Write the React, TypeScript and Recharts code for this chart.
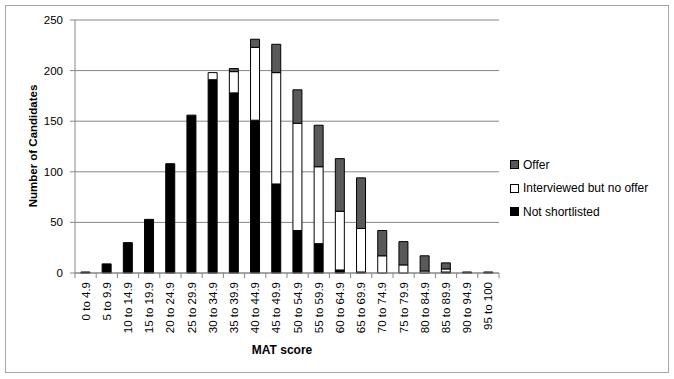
import React from 'react';
import { BarChart, Bar, XAxis, YAxis, CartesianGrid, Legend } from 'recharts';

// MAT score bands
const categories = [
  '0 to 4.9', '5 to 9.9', '10 to 14.9', '15 to 19.9', '20 to 24.9',
  '25 to 29.9', '30 to 34.9', '35 to 39.9', '40 to 44.9', '45 to 49.9',
  '50 to 54.9', '55 to 59.9', '60 to 64.9', '65 to 69.9', '70 to 74.9',
  '75 to 79.9', '80 to 84.9', '85 to 89.9', '90 to 94.9', '95 to 100'
];

const notShortlisted = [1, 9, 30, 53, 108, 156, 191, 178, 151, 88, 42, 29, 3, 1, 0, 0, 0, 1, 0, 0];
const interviewed = [0, 0, 0, 0, 0, 0, 7, 21, 72, 110, 106, 76, 58, 43, 17, 8, 2, 3, 0, 0];
const offer = [0, 0, 0, 0, 0, 0, 0, 3, 8, 28, 33, 41, 52, 50, 25, 23, 15, 6, 1, 1];

const yTicks = [0, 50, 100, 150, 200, 250];
const legendOrder = ['Offer', 'Interviewed but no offer', 'Not shortlisted'];

const data = categories.map((band, i) => ({
  band,
  notShortlisted: notShortlisted[i] || null,
  interviewed: interviewed[i] || null,
  offer: offer[i] || null
}));

const FONT = '"Liberation Sans", Arial, sans-serif';
const AXIS_GREY = '#868686';

const XTick = (props: any) => {
  const { x, y, payload, index, visibleTicksCount } = props;
  const half = 10.6;
  return (
    <g>
      <line x1={x - half} y1={y - 8} x2={x - half} y2={y - 3} stroke={AXIS_GREY} />
      {index === visibleTicksCount - 1 && (
        <line x1={x + half} y1={y - 8} x2={x + half} y2={y - 3} stroke={AXIS_GREY} />
      )}
      <text
        x={x}
        y={y + 1}
        transform={`rotate(-90, ${x}, ${y + 1})`}
        textAnchor="end"
        dominantBaseline="central"
        fontSize={11.5}
        fontFamily={FONT}
        fill="#000"
      >
        {payload.value}
      </text>
    </g>
  );
};

const LegendContent = (props: any) => {
  const payload = props.payload || [];
  const items = legendOrder
    .map((name) => payload.find((p: any) => p.value === name))
    .filter(Boolean);
  return (
    <div style={{ fontFamily: FONT, fontSize: 12, color: '#000' }}>
      {items.map((entry: any) => (
        <div key={entry.value} style={{ display: 'flex', alignItems: 'center', height: 23.5 }}>
          <span
            style={{
              width: 7,
              height: 7,
              background: entry.color,
              border: '1px solid #000',
              marginRight: 4,
              display: 'inline-block'
            }}
          />
          <span>{entry.value}</span>
        </div>
      ))}
    </div>
  );
};

export default function App() {
  return (
    <div style={{ position: 'absolute', left: 0, top: 0, width: 674, height: 379, background: '#fff' }}>
      <div
        style={{
          position: 'absolute',
          left: 5,
          top: 5,
          width: 662,
          height: 366,
          border: '1px solid #a6a6a6',
          pointerEvents: 'none'
        }}
      />
      <BarChart
        width={674}
        height={379}
        data={data}
        margin={{ top: 20, right: 175, bottom: 0, left: 0 }}
        barCategoryGap="28%"
      >
        <CartesianGrid vertical={false} stroke={AXIS_GREY} />
        <XAxis
          dataKey="band"
          interval={0}
          height={106}
          tickLine={false}
          tickSize={5}
          tickMargin={3}
          axisLine={{ stroke: AXIS_GREY }}
          tick={<XTick />}
          label={{
            content: () => (
              <text
                x={282}
                y={354}
                textAnchor="middle"
                fontFamily={FONT}
                fontWeight="bold"
                fontSize={12}
                fill="#000"
              >
                MAT score
              </text>
            )
          }}
        />
        <YAxis
          width={75}
          domain={[0, 250]}
          ticks={yTicks}
          interval={0}
          tickSize={5}
          tickMargin={7}
          axisLine={{ stroke: AXIS_GREY }}
          tickLine={{ stroke: AXIS_GREY }}
          tick={{ fontSize: 11.5, fontFamily: FONT, fill: '#000' }}
          label={{
            content: () => (
              <text
                x={33}
                y={146}
                transform="rotate(-90, 33, 146)"
                textAnchor="middle"
                dominantBaseline="central"
                fontFamily={FONT}
                fontWeight="bold"
                fontSize={11.5}
                fill="#000"
              >
                Number of Candidates
              </text>
            )
          }}
        />
        <Legend
          layout="horizontal"
          verticalAlign="middle"
          align="center"
          content={<LegendContent />}
          wrapperStyle={{ left: 510, top: 153, right: 'auto', width: 160 }}
        />
        <Bar dataKey="notShortlisted" name="Not shortlisted" stackId="a" fill="#000" stroke="#000" isAnimationActive={false} />
        <Bar dataKey="interviewed" name="Interviewed but no offer" stackId="a" fill="#fff" stroke="#000" isAnimationActive={false} />
        <Bar dataKey="offer" name="Offer" stackId="a" fill="#595959" stroke="#000" isAnimationActive={false} />
      </BarChart>
    </div>
  );
}
